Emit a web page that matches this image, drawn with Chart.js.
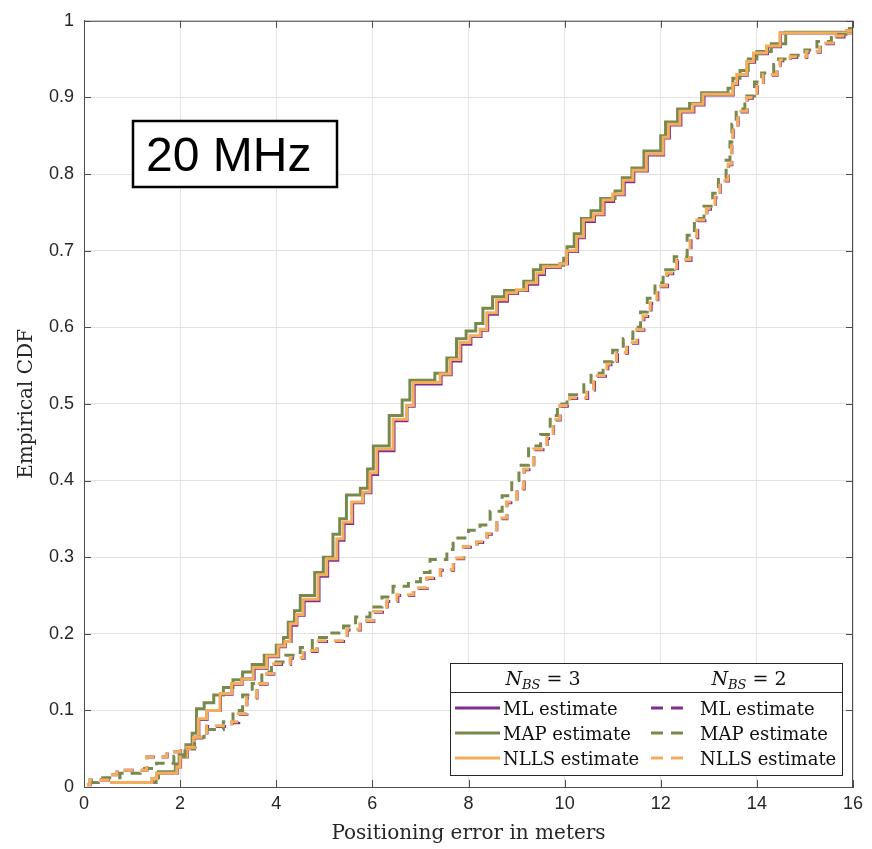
<!DOCTYPE html>
<html><head><meta charset="utf-8">
<script src="https://cdn.jsdelivr.net/npm/chart.js@4.4.1/dist/chart.umd.min.js"></script>
<style>html,body{margin:0;padding:0;background:#fff;}#wrap{width:872px;height:849px;}</style>
</head><body><div id="wrap"><canvas id="c" width="872" height="849"></canvas></div>
<script>
// ---- data ----
const xTicks = [0, 2, 4, 6, 8, 10, 12, 14, 16];
const yTicks = [0, 0.1, 0.2, 0.3, 0.4, 0.5, 0.6, 0.7, 0.8, 0.9, 1];
const seriesLabels = ['ML estimate', 'MAP estimate', 'NLLS estimate'];
const groupLabels = ['3', '2'];
const annotationText = '20 MHz';

// N_BS = 3 (solid) : [error, CDF] step points
const mlN3 = [[0.55,0.006],[1.42,0.011],[1.52,0.018],[1.94,0.026],[2.01,0.039],[2.15,0.05],[2.29,0.065],[2.39,0.088],[2.56,0.10],[2.84,0.121],[3.08,0.134],[3.29,0.141],[3.54,0.155],[3.81,0.17],[4.05,0.183],[4.19,0.19],[4.31,0.211],[4.43,0.224],[4.58,0.243],[4.89,0.275],[5.07,0.296],[5.28,0.322],[5.41,0.344],[5.59,0.371],[5.81,0.384],[5.97,0.408],[6.11,0.439],[6.45,0.478],[6.72,0.497],[6.87,0.526],[7.43,0.538],[7.64,0.556],[7.84,0.578],[8.05,0.588],[8.26,0.596],[8.4,0.617],[8.6,0.634],[8.81,0.644],[9.02,0.648],[9.23,0.656],[9.44,0.669],[9.58,0.678],[9.91,0.683],[10.06,0.699],[10.27,0.717],[10.41,0.738],[10.62,0.747],[10.82,0.764],[11.02,0.773],[11.24,0.79],[11.44,0.804],[11.72,0.825],[12.06,0.847],[12.18,0.864],[12.42,0.881],[12.69,0.89],[12.9,0.903],[13.51,0.917],[13.6,0.929],[13.8,0.946],[13.95,0.957],[14.22,0.966],[14.49,0.984],[16,0.984]];
const mapN3 = [[1.45,0.006],[1.5,0.012],[1.55,0.02],[1.9,0.03],[1.98,0.042],[2.12,0.055],[2.25,0.07],[2.34,0.102],[2.5,0.11],[2.7,0.12],[2.9,0.13],[3.1,0.14],[3.3,0.15],[3.5,0.16],[3.75,0.172],[4.0,0.185],[4.15,0.195],[4.25,0.215],[4.38,0.23],[4.5,0.25],[4.8,0.28],[4.98,0.30],[5.18,0.33],[5.32,0.35],[5.46,0.381],[5.75,0.39],[5.9,0.415],[6.02,0.445],[6.35,0.485],[6.62,0.505],[6.78,0.531],[7.3,0.54],[7.55,0.56],[7.75,0.585],[7.95,0.595],[8.15,0.605],[8.3,0.625],[8.5,0.64],[8.75,0.648],[9.15,0.66],[9.35,0.675],[9.5,0.681],[9.98,0.69],[10.05,0.705],[10.2,0.722],[10.35,0.742],[10.55,0.752],[10.75,0.768],[11.05,0.778],[11.2,0.795],[11.4,0.808],[11.65,0.83],[12.0,0.85],[12.1,0.868],[12.35,0.885],[12.6,0.892],[12.85,0.906],[13.4,0.912],[13.5,0.925],[13.65,0.935],[13.82,0.95],[14.0,0.96],[14.3,0.97],[14.6,0.985],[16,0.985]];
const nllsN3 = [[0.54,0.006],[1.41,0.011],[1.51,0.018],[1.93,0.026],[2.0,0.039],[2.14,0.05],[2.28,0.065],[2.38,0.089],[2.55,0.10],[2.83,0.122],[3.07,0.135],[3.28,0.141],[3.52,0.156],[3.8,0.171],[4.04,0.184],[4.18,0.19],[4.29,0.213],[4.42,0.225],[4.56,0.245],[4.87,0.277],[5.05,0.298],[5.26,0.324],[5.39,0.346],[5.57,0.372],[5.8,0.385],[5.95,0.41],[6.09,0.441],[6.43,0.48],[6.71,0.498],[6.85,0.528],[7.41,0.539],[7.62,0.558],[7.82,0.58],[8.03,0.589],[8.24,0.597],[8.38,0.619],[8.58,0.636],[8.79,0.645],[9.0,0.649],[9.21,0.658],[9.42,0.671],[9.56,0.679],[9.9,0.683],[10.04,0.70],[10.25,0.718],[10.39,0.74],[10.6,0.748],[10.8,0.766],[11.0,0.774],[11.22,0.792],[11.42,0.805],[11.7,0.826],[12.05,0.848],[12.16,0.865],[12.4,0.882],[12.67,0.891],[12.88,0.904],[13.5,0.918],[13.58,0.93],[13.79,0.947],[13.93,0.958],[14.2,0.967],[14.48,0.984],[16,0.984]];

// N_BS = 2 (dashed)
const mlN2 = [[0.07,0.003],[0.13,0.009],[0.51,0.016],[0.69,0.022],[1.31,0.039],[1.73,0.046],[2.01,0.052],[2.31,0.064],[2.56,0.079],[3.08,0.084],[3.22,0.095],[3.39,0.116],[3.6,0.134],[3.81,0.147],[3.95,0.16],[4.3,0.168],[4.58,0.177],[4.85,0.19],[5.48,0.205],[5.75,0.216],[6.03,0.228],[6.31,0.242],[6.53,0.25],[6.86,0.259],[7.14,0.272],[7.42,0.283],[7.69,0.298],[7.9,0.313],[8.18,0.319],[8.39,0.33],[8.59,0.35],[8.8,0.371],[9.01,0.389],[9.16,0.414],[9.36,0.44],[9.64,0.455],[9.77,0.479],[9.91,0.497],[10.11,0.507],[10.48,0.518],[10.62,0.536],[10.9,0.551],[11.1,0.566],[11.31,0.579],[11.52,0.596],[11.65,0.614],[11.8,0.631],[11.94,0.653],[12.14,0.67],[12.35,0.687],[12.63,0.717],[12.77,0.739],[12.96,0.754],[13.14,0.769],[13.24,0.791],[13.41,0.812],[13.48,0.838],[13.51,0.86],[13.61,0.881],[13.8,0.899],[14.01,0.916],[14.14,0.929],[14.42,0.94],[14.49,0.948],[14.7,0.952],[15.04,0.959],[15.32,0.97],[15.59,0.979],[15.88,0.987],[16,0.99]];
const mapN2 = [[0.1,0.006],[0.3,0.012],[0.75,0.018],[1.17,0.024],[1.51,0.031],[1.87,0.04],[2.1,0.05],[2.3,0.065],[2.5,0.075],[2.9,0.085],[3.1,0.1],[3.3,0.12],[3.5,0.135],[3.7,0.15],[3.9,0.163],[4.2,0.172],[4.5,0.182],[4.75,0.195],[5.12,0.201],[5.4,0.21],[5.65,0.222],[5.95,0.235],[6.2,0.248],[6.43,0.262],[6.75,0.268],[7.0,0.28],[7.2,0.297],[7.55,0.31],[7.68,0.325],[8.0,0.335],[8.24,0.342],[8.45,0.36],[8.7,0.38],[8.9,0.4],[9.05,0.42],[9.25,0.445],[9.5,0.46],[9.7,0.485],[9.85,0.5],[10.05,0.512],[10.4,0.525],[10.55,0.54],[10.8,0.555],[11.0,0.57],[11.22,0.585],[11.42,0.6],[11.58,0.62],[11.72,0.638],[11.88,0.658],[12.05,0.675],[12.28,0.692],[12.55,0.72],[12.7,0.742],[12.9,0.758],[13.08,0.775],[13.2,0.795],[13.36,0.818],[13.44,0.842],[13.48,0.865],[13.57,0.885],[13.75,0.902],[13.95,0.92],[14.1,0.932],[14.35,0.943],[14.45,0.95],[14.65,0.955],[15.0,0.962],[15.25,0.973],[15.55,0.982],[15.85,0.99],[16,0.99]];
const nllsN2 = [[0.06,0.003],[0.12,0.009],[0.5,0.016],[0.68,0.022],[1.3,0.039],[1.72,0.046],[2.0,0.052],[2.3,0.065],[2.55,0.08],[3.07,0.085],[3.21,0.096],[3.38,0.117],[3.59,0.135],[3.8,0.148],[3.94,0.161],[4.29,0.169],[4.56,0.178],[4.84,0.191],[5.47,0.206],[5.74,0.217],[6.02,0.229],[6.3,0.243],[6.51,0.251],[6.85,0.26],[7.13,0.273],[7.41,0.284],[7.68,0.299],[7.89,0.314],[8.17,0.32],[8.38,0.331],[8.58,0.351],[8.79,0.372],[9.0,0.39],[9.15,0.415],[9.35,0.441],[9.63,0.456],[9.76,0.48],[9.9,0.498],[10.1,0.508],[10.46,0.519],[10.6,0.537],[10.88,0.552],[11.08,0.567],[11.29,0.58],[11.5,0.597],[11.63,0.615],[11.78,0.632],[11.92,0.654],[12.12,0.671],[12.33,0.688],[12.61,0.718],[12.75,0.74],[12.95,0.755],[13.13,0.77],[13.23,0.792],[13.4,0.813],[13.47,0.839],[13.5,0.861],[13.6,0.882],[13.79,0.9],[14.0,0.917],[14.13,0.93],[14.41,0.941],[14.48,0.949],[14.69,0.953],[15.03,0.96],[15.31,0.971],[15.58,0.98],[15.87,0.987],[16,0.99]];

// ---- styling ----
const COLORS = ['#7E2F8E', '#77894d', '#f4ad5c'];
const DASH = [10, 7];
const pts = a => a.map(p => ({x: p[0], y: p[1]}));

function ds(label, data, ci, dashed, order) {
  return {
    label: label, data: pts(data), borderColor: COLORS[ci], backgroundColor: COLORS[ci],
    borderWidth: 3, borderDash: dashed ? DASH : [], stepped: 'before', pointRadius: 0,
    fill: false, order: order, borderCapStyle: 'butt', borderJoinStyle: 'miter'
  };
}

const datasets = [
  ds('ML estimate (N_BS=3)', mlN3, 0, false, 5),
  ds('MAP estimate (N_BS=3)', mapN3, 1, false, 4),
  ds('NLLS estimate (N_BS=3)', nllsN3, 2, false, 3),
  ds('ML estimate (N_BS=2)', mlN2, 0, true, 2),
  ds('MAP estimate (N_BS=2)', mapN2, 1, true, 1),
  ds('NLLS estimate (N_BS=2)', nllsN2, 2, true, 0)
];

const TEXT = '#262626';
const AXIS = '#4d4d4d';
const SERIF = '"DejaVu Serif", "Liberation Serif", serif';
const SANS = '"Liberation Sans", Arial, sans-serif';

const decor = {
  id: 'decor',
  afterDraw(chart) {
    const ctx = chart.ctx, a = chart.chartArea;
    const xs = chart.scales.x, ys = chart.scales.y;
    ctx.save();
    // frame (top / right) and inner ticks
    ctx.strokeStyle = AXIS; ctx.lineWidth = 1;
    ctx.beginPath();
    ctx.moveTo(a.left, a.top + 0.5); ctx.lineTo(a.right, a.top + 0.5);
    ctx.moveTo(a.right - 0.5, a.top); ctx.lineTo(a.right - 0.5, a.bottom);
    xTicks.forEach(v => {
      const px = Math.round(xs.getPixelForValue(v)) + 0.5;
      ctx.moveTo(px, a.bottom); ctx.lineTo(px, a.bottom - 7);
      ctx.moveTo(px, a.top); ctx.lineTo(px, a.top + 7);
    });
    yTicks.forEach(v => {
      const py = Math.round(ys.getPixelForValue(v)) + 0.5;
      ctx.moveTo(a.left, py); ctx.lineTo(a.left + 7, py);
      ctx.moveTo(a.right, py); ctx.lineTo(a.right - 7, py);
    });
    ctx.stroke();

    // "20 MHz" annotation box
    ctx.fillStyle = '#fff';
    ctx.fillRect(133, 121, 204, 66);
    ctx.strokeStyle = '#000'; ctx.lineWidth = 2.5;
    ctx.strokeRect(133, 121, 204, 66);
    ctx.fillStyle = '#000';
    ctx.font = '48px ' + SANS;
    ctx.textAlign = 'left'; ctx.textBaseline = 'alphabetic';
    ctx.fillText(annotationText, 146, 171);

    // legend
    const L = 450, T = 663, R = 842, B = 775;
    ctx.fillStyle = '#fff';
    ctx.fillRect(L, T, R - L, B - T);
    ctx.strokeStyle = '#262626'; ctx.lineWidth = 1;
    ctx.strokeRect(L + 0.5, T + 0.5, R - L, B - T);
    ctx.beginPath(); ctx.moveTo(L, 692.5); ctx.lineTo(R, 692.5); ctx.stroke();

    // headers: N_BS = k
    const colCenters = [543, 749];
    groupLabels.forEach((g, i) => {
      const fN = 'italic 19px ' + SERIF, fS = 'italic 13px ' + SERIF, fE = '19px ' + SERIF;
      ctx.font = fN; const wN = ctx.measureText('N').width;
      ctx.font = fS; const wS = ctx.measureText('BS').width;
      ctx.font = fE; const eq = ' = ' + g; const wE = ctx.measureText(eq).width;
      let x = colCenters[i] - (wN + wS + wE) / 2;
      ctx.fillStyle = '#111'; ctx.textAlign = 'left';
      ctx.font = fN; ctx.fillText('N', x, 685); x += wN;
      ctx.font = fS; ctx.fillText('BS', x, 689); x += wS;
      ctx.font = fE; ctx.fillText(eq, x, 685);
    });

    // entries
    const rowsY = [708, 733, 758];
    seriesLabels.forEach((lab, r) => {
      const y = rowsY[r];
      ctx.lineWidth = 3; ctx.strokeStyle = COLORS[r];
      ctx.setLineDash([]);
      ctx.beginPath(); ctx.moveTo(455, y); ctx.lineTo(500, y); ctx.stroke();
      ctx.setLineDash([12, 8]);
      ctx.beginPath(); ctx.moveTo(651, y); ctx.lineTo(689, y); ctx.stroke();
      ctx.setLineDash([]);
      ctx.fillStyle = '#111'; ctx.font = '18px ' + SERIF; ctx.textAlign = 'left';
      ctx.fillText(lab, 503, y + 7);
      ctx.fillText(lab, 700, y + 7);
    });
    ctx.restore();
  }
};

new Chart(document.getElementById('c'), {
  type: 'line',
  data: { datasets: datasets },
  plugins: [decor],
  options: {
    responsive: false, animation: false, devicePixelRatio: 1,
    layout: { padding: { top: 16, right: 19, left: 0, bottom: 0 } },
    plugins: { legend: { display: false }, tooltip: { enabled: false } },
    scales: {
      x: {
        type: 'linear', min: 0, max: 16,
        afterBuildTicks: s => { s.ticks = xTicks.map(v => ({ value: v })); },
        afterFit: s => { s.height = 62; },
        ticks: { color: TEXT, font: { family: SANS, size: 18 }, padding: 6, maxRotation: 0, autoSkip: false },
        grid: { color: '#e3e3e3', drawTicks: false },
        border: { color: AXIS, width: 1 },
        title: { display: true, text: 'Positioning error in meters', color: TEXT,
                 font: { family: SERIF, size: 20 }, padding: { top: 0, bottom: 3 } }
      },
      y: {
        type: 'linear', min: 0, max: 1,
        afterBuildTicks: s => { s.ticks = yTicks.map(v => ({ value: v })); },
        afterFit: s => { s.width = 84; },
        ticks: { color: TEXT, font: { family: SANS, size: 18 }, padding: 10, autoSkip: false,
                 callback: v => String(+v.toFixed(1)) },
        grid: { color: '#e3e3e3', drawTicks: false },
        border: { color: AXIS, width: 1 },
        title: { display: true, text: 'Empirical CDF', color: TEXT,
                 font: { family: SERIF, size: 20 }, padding: { top: 15, bottom: 0 } }
      }
    }
  }
});
</script></body></html>
